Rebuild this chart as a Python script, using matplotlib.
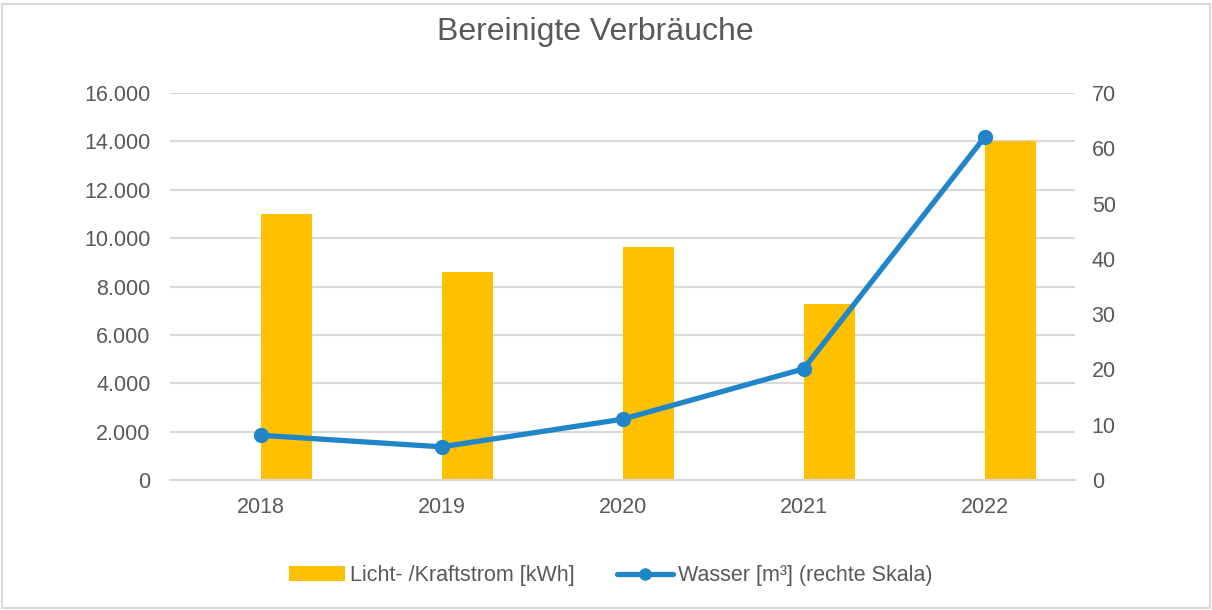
import matplotlib.pyplot as plt
from matplotlib.patches import Rectangle
from matplotlib.ticker import FuncFormatter
import numpy as np

plt.rcParams['font.family'] = ['Liberation Sans', 'DejaVu Sans']

# Daten
jahre = ['2018', '2019', '2020', '2021', '2022']
strom_kwh = [11000, 8600, 9630, 7280, 14000]
wasser_m3 = [8.1, 6.0, 11.0, 20.1, 62.0]

grau = '#595959'
gitter = '#D9D9D9'

fig = plt.figure(figsize=(12.12, 6.1), dpi=100)
ax = fig.add_axes([0.1403, 0.2131, 0.7467, 0.6344])
ax2 = ax.twinx()

x = np.arange(len(jahre))
ax.bar(x, strom_kwh, width=0.287, align='edge', color='#FFC000',
       label='Licht- /Kraftstrom [kWh]', zorder=2)
ax2.plot(x, wasser_m3, color='#2185C9', lw=3.8, marker='o', markersize=10,
         solid_capstyle='round', label='Wasser [m³] (rechte Skala)', zorder=3)

ax.set_xlim(-0.5, len(jahre) - 0.5)
ax.set_ylim(0, 16000)
ax2.set_ylim(0, 70)
ax.set_yticks(range(0, 16001, 2000))
ax2.set_yticks(range(0, 71, 10))
ax.set_xticks(x)
ax.set_xticklabels(jahre)
ax.yaxis.set_major_formatter(FuncFormatter(lambda v, p: f'{int(v):,}'.replace(',', '.')))

#Grilla
ax.yaxis.grid(color=gitter, lw=1.5, zorder=0)
ax.set_axisbelow(True)

for a in (ax, ax2):
    for s in a.spines.values():
        s.set_visible(False)
    a.tick_params(length=0, labelsize=15.5, colors=grau)
ax.spines['bottom'].set_visible(True)
ax.spines['bottom'].set_color(gitter)
ax.spines['bottom'].set_linewidth(1.5)
ax.tick_params(axis='y', pad=14)
ax.tick_params(axis='x', pad=12)
ax2.tick_params(axis='y', pad=12)

fig.suptitle('Bereinigte Verbräuche', x=0.491, y=0.972, va='top',
             fontsize=23, color=grau)

h1, l1 = ax.get_legend_handles_labels()
h2, l2 = ax2.get_legend_handles_labels()
fig.legend(h1 + h2, l1 + l2, loc='center', bbox_to_anchor=(0.504, 0.056),
           ncol=2, frameon=False, fontsize=15.5, labelcolor=grau,
           handlelength=2.6, handletextpad=0.2, columnspacing=2.0,
           markerscale=0.8)

# Rahmen
fig.patches.append(Rectangle((0.002, 0.004), 0.996, 0.989, transform=fig.transFigure,
                             fill=False, edgecolor=gitter, lw=1.5))

fig.savefig('out.png', dpi=100)
